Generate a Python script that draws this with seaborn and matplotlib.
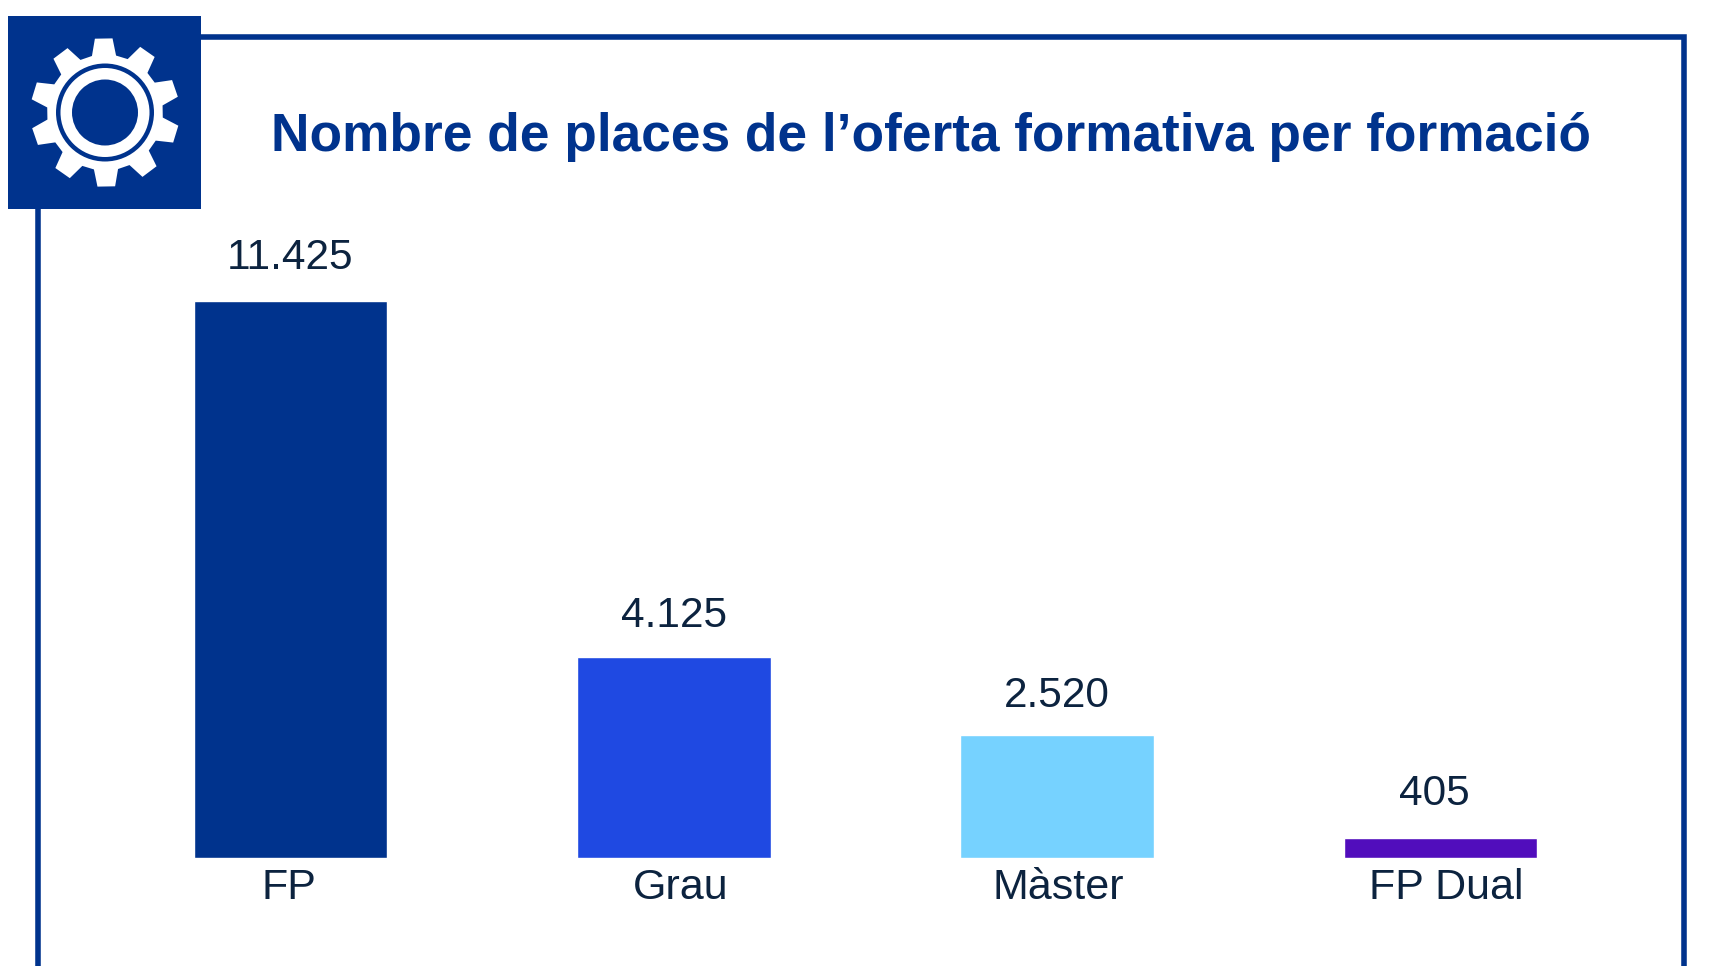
import numpy as np
import pandas as pd
import matplotlib.pyplot as plt
from matplotlib.patches import Rectangle, Polygon, Circle
import seaborn as sns

# Data
categories = ["FP", "Grau", "Màster", "FP Dual"]
places = [11425, 4125, 2520, 405]
value_labels = ["11.425", "4.125", "2.520", "405"]
bar_colors = ["#00338D", "#1F49E2", "#76D2FF", "#510DBC"]
title = "Nombre de places de l’oferta formativa per formació"

BLUE = "#00338D"
TEXT = "#0C233F"
W, H = 1712, 966

sns.set_theme(style="white")
plt.rcParams['font.family'] = ['Liberation Sans', 'DejaVu Sans']

df = pd.DataFrame({"formacio": categories, "places": places})

fig = plt.figure(figsize=(W / 100, H / 100), dpi=100, facecolor="white")

# Frame and icon sit in an overlay that uses pixel coordinates
bg = fig.add_axes([0, 0, 1, 1], zorder=0)
bg.set_xlim(0, W)
bg.set_ylim(H, 0)
bg.axis("off")
bg.add_patch(Rectangle((38, 36.5), 1646, 1000, fill=False, ec=BLUE, lw=4, joinstyle="miter"))
bg.add_patch(Rectangle((8, 16), 193, 193, fc=BLUE, ec="none", zorder=3))

# Gear icon
cx, cy = 105, 112.5
pts = []
for k in range(10):
    a = np.deg2rad(-91 + 36 * k)
    for da, r in [(-12, 58), (-6.8, 74.5), (6.8, 74.5), (12, 58)]:
        t = a + np.deg2rad(da)
        pts.append((cx + r * np.cos(t), cy + r * np.sin(t)))
bg.add_patch(Polygon(pts, closed=True, fc="white", ec="none", zorder=4))
bg.add_patch(Circle((cx, cy), 49, fc=BLUE, ec="none", zorder=5))
bg.add_patch(Circle((cx, cy), 44.5, fc="white", ec="none", zorder=6))
bg.add_patch(Circle((cx, cy), 33, fc=BLUE, ec="none", zorder=7))

bg.text(931, 137, title, color=BLUE, fontsize=38.3, fontweight="bold", ha="center", va="center")

# Bars
left, right = 98.8, 1632
bottom, top = 857.6, 301
ax = fig.add_axes([left / W, 1 - bottom / H, (right - left) / W, (bottom - top) / H], zorder=1)
ax.patch.set_alpha(0)
sns.barplot(data=df, x="formacio", y="places", hue="formacio", palette=bar_colors,
            legend=False, width=0.505, saturation=1, ax=ax)
ax.set_xlim(-0.5, 3.5)
ax.set_ylim(0, max(places))
ax.set_xlabel("")
ax.set_ylabel("")
ax.set_yticks([])
ax.tick_params(axis="x", length=0, pad=0, labelbottom=False)
sns.despine(ax=ax, left=True, bottom=True)

# Value labels and category labels, nudged as in the original
label_dx = [0, 0, 0, -6]
label_dy = [23, 21, 19, 24]
cat_dx = [-2, 7, 1, 6]
for i in range(len(categories)):
    ax.annotate(value_labels[i], (i, places[i]), xytext=(label_dx[i], label_dy[i]), textcoords="offset pixels",
                ha="center", va="bottom", fontsize=30.5, color=TEXT, annotation_clip=False)
    ax.annotate(categories[i], (i, 0), xytext=(cat_dx[i], -10), textcoords="offset pixels",
                ha="center", va="top", fontsize=31, color=TEXT, annotation_clip=False)

fig.savefig("out.png", dpi=100)
